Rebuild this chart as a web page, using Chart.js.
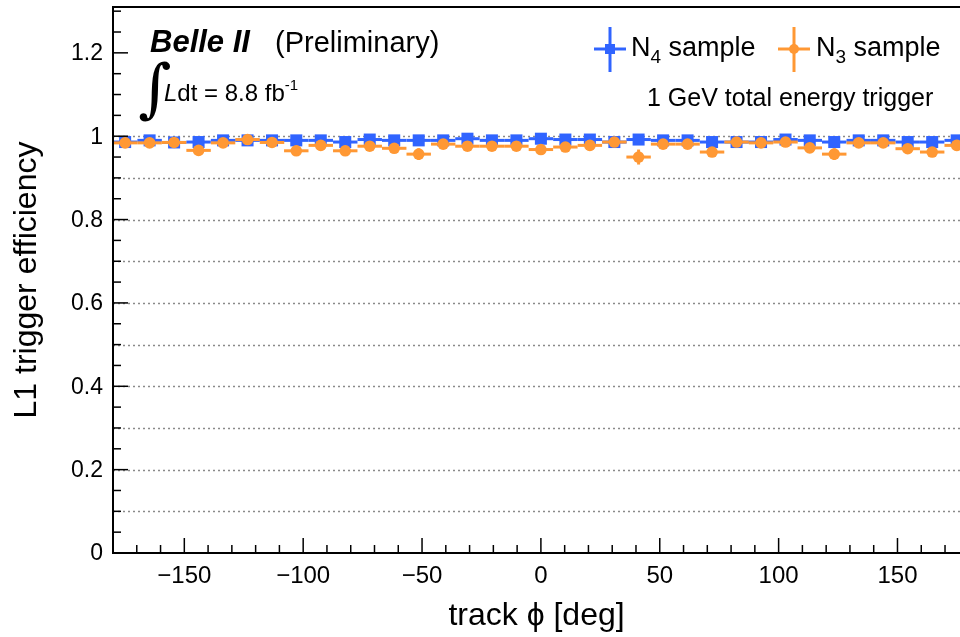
<!DOCTYPE html>
<html>
<head>
<meta charset="utf-8">
<script src="https://cdn.jsdelivr.net/npm/chart.js@4.4.1/dist/chart.umd.min.js"></script>
<style>
  html, body { margin: 0; padding: 0; background: #fff; }
  #wrap { width: 960px; height: 637px; }
</style>
</head>
<body>
<div id="wrap"><canvas id="effChart" width="960" height="637"></canvas></div>
<script>
// phi bin centres [deg], 35 bins over the full circle
const phiCenters = [
    -174.9, -164.6, -154.3, -144.0, -133.7, -123.4, -113.1, -102.9, -92.6, -82.3,
    -72.0, -61.7, -51.4, -41.1, -30.9, -20.6, -10.3, 0.0, 10.3, 20.6,
    30.9, 41.1, 51.4, 61.7, 72.0, 82.3, 92.6, 102.9, 113.1, 123.4,
    133.7, 144.0, 154.3, 164.6, 174.9
];
const binHalfWidth = 5.14;

// N4 sample efficiency and errors
const effN4 = [
    0.986, 0.990, 0.985, 0.986, 0.990, 0.990, 0.990, 0.990, 0.990, 0.986,
    0.992, 0.990, 0.990, 0.990, 0.994, 0.990, 0.990, 0.994, 0.992, 0.992,
    0.986, 0.992, 0.990, 0.990, 0.986, 0.986, 0.986, 0.992, 0.990, 0.986,
    0.990, 0.990, 0.986, 0.986, 0.990
];
const errN4 = [
    0.004, 0.003, 0.004, 0.004, 0.003, 0.003, 0.003, 0.003, 0.003, 0.004,
    0.003, 0.003, 0.003, 0.003, 0.003, 0.003, 0.003, 0.003, 0.003, 0.003,
    0.004, 0.003, 0.003, 0.003, 0.004, 0.004, 0.004, 0.003, 0.003, 0.004,
    0.003, 0.003, 0.004, 0.004, 0.003
];

// N3 sample efficiency and errors
const effN3 = [
    0.984, 0.984, 0.985, 0.966, 0.984, 0.992, 0.985, 0.965, 0.978, 0.965,
    0.976, 0.971, 0.957, 0.981, 0.976, 0.976, 0.976, 0.968, 0.974, 0.978,
    0.986, 0.950, 0.981, 0.981, 0.962, 0.986, 0.984, 0.986, 0.972, 0.957,
    0.984, 0.984, 0.970, 0.962, 0.978
];
const errN3 = [
    0.006, 0.006, 0.006, 0.012, 0.006, 0.005, 0.006, 0.012, 0.008, 0.012,
    0.008, 0.010, 0.014, 0.007, 0.008, 0.008, 0.008, 0.010, 0.009, 0.008,
    0.006, 0.018, 0.007, 0.007, 0.012, 0.006, 0.006, 0.006, 0.010, 0.014,
    0.006, 0.006, 0.010, 0.012, 0.008
];

const xTickValues = [-150, -100, -50, 0, 50, 100, 150];
const yTickValues = [0, 0.2, 0.4, 0.6, 0.8, 1.0, 1.2];
const gridLevels = [0.1, 0.2, 0.3, 0.4, 0.5, 0.6, 0.7, 0.8, 0.9, 1.0];

const FONT = '"Liberation Sans", Arial, Helvetica, sans-serif';
const BLUE = "rgb(48,100,255)";
const ORANGE = "rgb(255,152,52)";

function toPoints(xs, ys, errs) {
    return xs.map((x, i) => ({ x: x, y: ys[i], xErr: binHalfWidth, yErr: errs[i] }));
}

function line(ctx, x1, y1, x2, y2) {
    ctx.beginPath();
    ctx.moveTo(x1, y1);
    ctx.lineTo(x2, y2);
    ctx.stroke();
}

// draws a run of text pieces left to right: [text, font, dy]
function drawRun(ctx, x, y, pieces) {
    pieces.forEach(p => {
        ctx.font = p[1];
        ctx.fillText(p[0], x, y + (p[2] || 0));
        x += ctx.measureText(p[0]).width;
    });
}

function fmtX(v) {
    return v < 0 ? "\u2212" + Math.abs(v) : String(v);
}

function fmtY(v) {
    return String(Math.round(v * 10) / 10);
}

const decorations = {
    id: "decorations",

    beforeDatasetsDraw(chart) {
        const { ctx, chartArea: a, scales: { y } } = chart;
        ctx.save();
        ctx.strokeStyle = "#8a8a8a";
        ctx.lineWidth = 1.3;
        ctx.setLineDash([2, 3]);
        gridLevels.forEach(v => {
            const py = Math.round(y.getPixelForValue(v)) + 0.5;
            line(ctx, a.left, py, a.right, py);
        });
        ctx.restore();
    },

    // error bars sit under each dataset's own markers
    beforeDatasetDraw(chart, args) {
        const { ctx, scales: { x, y } } = chart;
        const ds = chart.data.datasets[args.index];
        ctx.save();
        ctx.strokeStyle = ds.borderColor;
        ctx.lineWidth = 3;
        ds.data.forEach(p => {
            const px = x.getPixelForValue(p.x);
            const py = y.getPixelForValue(p.y);
            line(ctx, x.getPixelForValue(p.x - p.xErr), py, x.getPixelForValue(p.x + p.xErr), py);
            line(ctx, px, y.getPixelForValue(p.y - p.yErr), px, y.getPixelForValue(p.y + p.yErr));
        });
        ctx.restore();
    },

    afterDatasetsDraw(chart) {
        const { ctx, chartArea: a, scales: { x, y } } = chart;
        ctx.save();
        ctx.strokeStyle = "#000";
        ctx.lineWidth = 2;
        line(ctx, a.left, a.top, a.right, a.top);
        line(ctx, a.left, a.top - 1, a.left, a.bottom + 1);
        line(ctx, a.left - 1, a.bottom, a.right, a.bottom);

        ctx.lineWidth = 1.5;
        for (let v = -170; v <= 170; v += 10) {
            const px = x.getPixelForValue(v);
            const len = v % 50 === 0 ? 15 : 8;
            line(ctx, px, a.bottom, px, a.bottom - len);
        }
        for (let k = 1; k <= 26; k++) {
            const v = k * 0.05;
            const py = y.getPixelForValue(v);
            const len = k % 4 === 0 ? 15 : 8;
            line(ctx, a.left, py, a.left + len, py);
        }

        // tick labels
        ctx.fillStyle = "#000";
        ctx.font = `24px ${FONT}`;
        ctx.textAlign = "center";
        ctx.textBaseline = "top";
        xTickValues.forEach(v => ctx.fillText(fmtX(v), x.getPixelForValue(v), a.bottom + 11));
        ctx.font = `23px ${FONT}`;
        ctx.textAlign = "right";
        ctx.textBaseline = "middle";
        yTickValues.forEach(v => ctx.fillText(fmtY(v), a.left - 10, y.getPixelForValue(v) + 1));
        ctx.restore();
    },

    afterDraw(chart) {
        const ctx = chart.ctx;
        ctx.save();
        ctx.fillStyle = "#000";
        ctx.textBaseline = "alphabetic";
        ctx.textAlign = "left";

        ctx.font = `italic bold 31px ${FONT}`;
        ctx.fillText("Belle II", 150, 52);
        ctx.font = `29px ${FONT}`;
        ctx.fillText("(Preliminary)", 275, 52);

        ctx.font = `64px "DejaVu Serif", serif`;
        ctx.fillText("\u222B", 138, 110);
        drawRun(ctx, 164, 101, [
            ["L", `italic 24px ${FONT}`],
            ["dt = 8.8 fb", `24px ${FONT}`],
            ["-1", `15px ${FONT}`, -11]
        ]);

        // legend entries with error-bar crosses
        const entries = [
            { cx: 610, color: BLUE, style: "rect", sub: "4", tx: 631 },
            { cx: 794, color: ORANGE, style: "circle", sub: "3", tx: 816 }
        ];
        entries.forEach(e => {
            ctx.strokeStyle = e.color;
            ctx.fillStyle = e.color;
            ctx.lineWidth = 3;
            line(ctx, e.cx - 16, 49, e.cx + 16, 49);
            line(ctx, e.cx, 27, e.cx, 72);
            if (e.style === "rect") {
                ctx.fillRect(e.cx - 5, 44, 10, 10);
            } else {
                ctx.beginPath();
                ctx.arc(e.cx, 49, 5, 0, Math.PI * 2);
                ctx.fill();
            }
            ctx.fillStyle = "#000";
            drawRun(ctx, e.tx, 56, [
                ["N", `27px ${FONT}`],
                [e.sub, `19px ${FONT}`, 7],
                [" sample", `27px ${FONT}`]
            ]);
        });

        ctx.font = `25px ${FONT}`;
        ctx.fillText("1 GeV total energy trigger", 647, 106);
        ctx.restore();
    }
};

new Chart(document.getElementById("effChart"), {
    type: "scatter",
    data: {
        datasets: [
            {
                label: "N4 sample",
                data: toPoints(phiCenters, effN4, errN4),
                borderColor: BLUE,
                backgroundColor: BLUE,
                pointStyle: "rect",
                pointRadius: 8.5,
                pointBorderWidth: 0,
                showLine: false,
                clip: false,
                order: 2
            },
            {
                label: "N3 sample",
                data: toPoints(phiCenters, effN3, errN3),
                borderColor: ORANGE,
                backgroundColor: ORANGE,
                pointStyle: "circle",
                pointRadius: 5.8,
                pointBorderWidth: 0,
                showLine: false,
                clip: false,
                order: 1
            }
        ]
    },
    options: {
        responsive: false,
        animation: false,
        layout: { autoPadding: false, padding: { top: 7, left: 0, right: 0, bottom: 0 } },
        plugins: {
            legend: { display: false },
            tooltip: { enabled: false }
        },
        scales: {
            x: {
                type: "linear",
                min: -180,
                max: 176.3,
                afterFit: scale => { scale.height = 84; },
                grid: { display: false, drawTicks: false, tickLength: 0 },
                border: { display: false },
                ticks: { display: false },
                title: {
                    display: true,
                    text: "track \u03D5 [deg]",
                    color: "#000",
                    font: { family: FONT, size: 32 },
                    padding: { top: 0, bottom: 2 }
                }
            },
            y: {
                type: "linear",
                min: 0,
                max: 1.31,
                afterFit: scale => { scale.width = 113; },
                grid: { display: false, drawTicks: false, tickLength: 0 },
                border: { display: false },
                ticks: { display: false },
                title: {
                    display: true,
                    text: "L1 trigger efficiency",
                    color: "#000",
                    font: { family: FONT, size: 32 },
                    padding: { top: 8, bottom: 0 }
                }
            }
        }
    },
    plugins: [decorations]
});
</script>
</body>
</html>
